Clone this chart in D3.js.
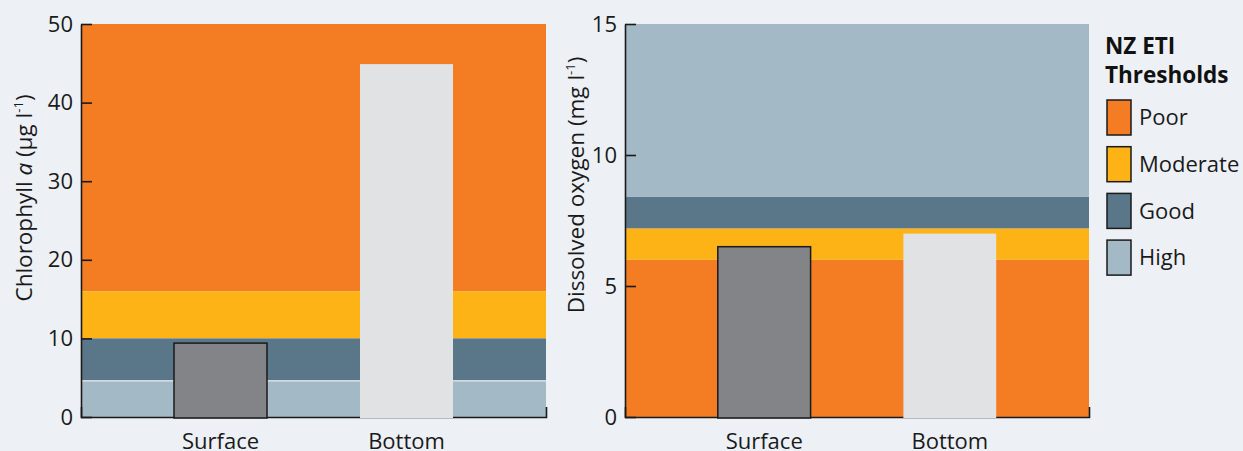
<!DOCTYPE html>
<html>
<head>
<meta charset="utf-8">
<script src="https://cdn.jsdelivr.net/npm/d3@7"></script>
<style>
  html, body { margin: 0; padding: 0; background: #edf1f5; }
  svg { display: block; font-family: "Open Sans", "Noto Sans", sans-serif; }
</style>
</head>
<body>
<svg id="chart" width="1243" height="451"></svg>
<script>
// Sampling sites
const categories = ["Surface", "Bottom"];

// Measured values per site
const chlValues = [9.4, 44.9];   // chlorophyll a, µg/l
const doValues = [6.5, 7.0];     // dissolved oxygen, mg/l

// Axis ticks
const chlTicks = [0, 10, 20, 30, 40, 50];
const doTicks = [0, 5, 10, 15];

// NZ ETI condition classes
const classes = ["Poor", "Moderate", "Good", "High"];
const classColors = ["#f47d24", "#fdb316", "#5a7789", "#a3b9c6"];

// Threshold band limits [from, to] for each class, in class order
const chlBands = [[16, 50], [10, 16], [4.6, 10], [0, 4.6]];
const doBands = [[0, 6], [6, 7.2], [7.2, 8.4], [8.4, 15]];

const barColors = ["#838487", "#e1e2e4"];

const svg = d3.select("#chart");
const plotTop = 24, plotBottom = 417;

function panel({ x0, x1, domain, ticks, bands, values, title, sep }) {
  const g = svg.append("g");
  const y = d3.scaleLinear().domain(domain).range([plotBottom, plotTop]);
  const x = d3.scaleBand().domain(categories).range([x0, x1]).padding(0.5);

  // threshold bands
  g.selectAll("rect.band").data(bands).join("rect")
    .attr("class", "band")
    .attr("x", x0).attr("width", x1 - x0)
    .attr("y", d => y(d[1]))
    .attr("height", d => y(d[0]) - y(d[1]))
    .attr("fill", (d, i) => classColors[i]);

  if (sep) {
    const hb = bands[3];
    g.append("line")
      .attr("x1", x0).attr("x2", x1)
      .attr("y1", y(hb[1])).attr("y2", y(hb[1]))
      .attr("stroke", "#ffffff").attr("stroke-width", 1);
  }

  // x axis baseline with end tick
  const xa = g.append("g").attr("transform", `translate(0,${plotBottom})`)
    .call(d3.axisBottom(x).tickSize(0).tickSizeOuter(-10).tickPadding(14))
    .attr("font-family", null).attr("font-size", null);
  xa.select(".domain").attr("stroke", "#1a1a1a").attr("stroke-width", 1.6);
  xa.selectAll("text").attr("font-size", 22).attr("fill", "#1a1a1a")
    .attr("dy", "0.71em").attr("y", 16);

  // bars
  g.selectAll("rect.bar").data(values).join("rect")
    .attr("class", "bar")
    .attr("x", (d, i) => x(categories[i]))
    .attr("width", x.bandwidth())
    .attr("y", d => y(d))
    .attr("height", d => y(0) - y(d) + 1)
    .attr("fill", (d, i) => barColors[i])
    .attr("stroke", (d, i) => i === 0 ? "#1a1a1a" : "none")
    .attr("stroke-width", 1.5);

  // y axis with inward ticks
  const ya = g.append("g").attr("transform", `translate(${x0},0)`)
    .call(d3.axisLeft(y).tickValues(ticks).tickSizeInner(-11).tickSizeOuter(0).tickPadding(8))
    .attr("font-family", null).attr("font-size", null);
  ya.select(".domain").attr("stroke", "#1a1a1a").attr("stroke-width", 1.6);
  ya.selectAll(".tick line").attr("stroke", "#1a1a1a").attr("stroke-width", 1.6);
  ya.selectAll("text").attr("font-size", 22).attr("fill", "#1a1a1a");

  // y axis title
  const t = g.append("text")
    .attr("transform", `translate(${title.x},${title.y}) rotate(-90)`)
    .attr("text-anchor", "middle")
    .attr("font-size", 22.5).attr("fill", "#1a1a1a");
  title.parts.forEach(p => {
    const s = t.append("tspan").text(p.text);
    if (p.italic) s.attr("font-style", "italic");
    if (p.sup) s.attr("font-size", 13).attr("baseline-shift", "super");
  });
}

panel({
  x0: 81, x1: 546, domain: [0, 50], ticks: chlTicks, bands: chlBands, values: chlValues, sep: true,
  title: { x: 32, y: 198, parts: [
    { text: "Chlorophyll " }, { text: "a", italic: true }, { text: " (µg l" }, { text: "-1", sup: true }, { text: ")" }
  ] }
});

panel({
  x0: 625, x1: 1089, domain: [0, 15], ticks: doTicks, bands: doBands, values: doValues, sep: false,
  title: { x: 584, y: 185, parts: [
    { text: "Dissolved oxygen (mg l" }, { text: "-1", sup: true }, { text: ")" }
  ] }
});

// legend
const lg = svg.append("g");
lg.append("text").attr("x", 1105).attr("y", 54)
  .attr("font-size", 22.5).attr("font-weight", "bold").attr("fill", "#111")
  .selectAll("tspan").data(["NZ ETI", "Thresholds"]).join("tspan")
  .attr("x", 1105).attr("dy", (d, i) => i === 0 ? 0 : 29).text(d => d);

const items = lg.selectAll("g.item").data(classes).join("g")
  .attr("class", "item")
  .attr("transform", (d, i) => `translate(1107,${100 + i * 46.7})`);
items.append("rect").attr("width", 24).attr("height", 35)
  .attr("fill", (d, i) => classColors[i])
  .attr("stroke", "#1a1a1a").attr("stroke-width", 1.5);
items.append("text").attr("x", 32).attr("y", 17.5).attr("dy", "0.35em")
  .attr("font-size", 22).attr("fill", "#1a1a1a").text(d => d);
</script>
</body>
</html>
